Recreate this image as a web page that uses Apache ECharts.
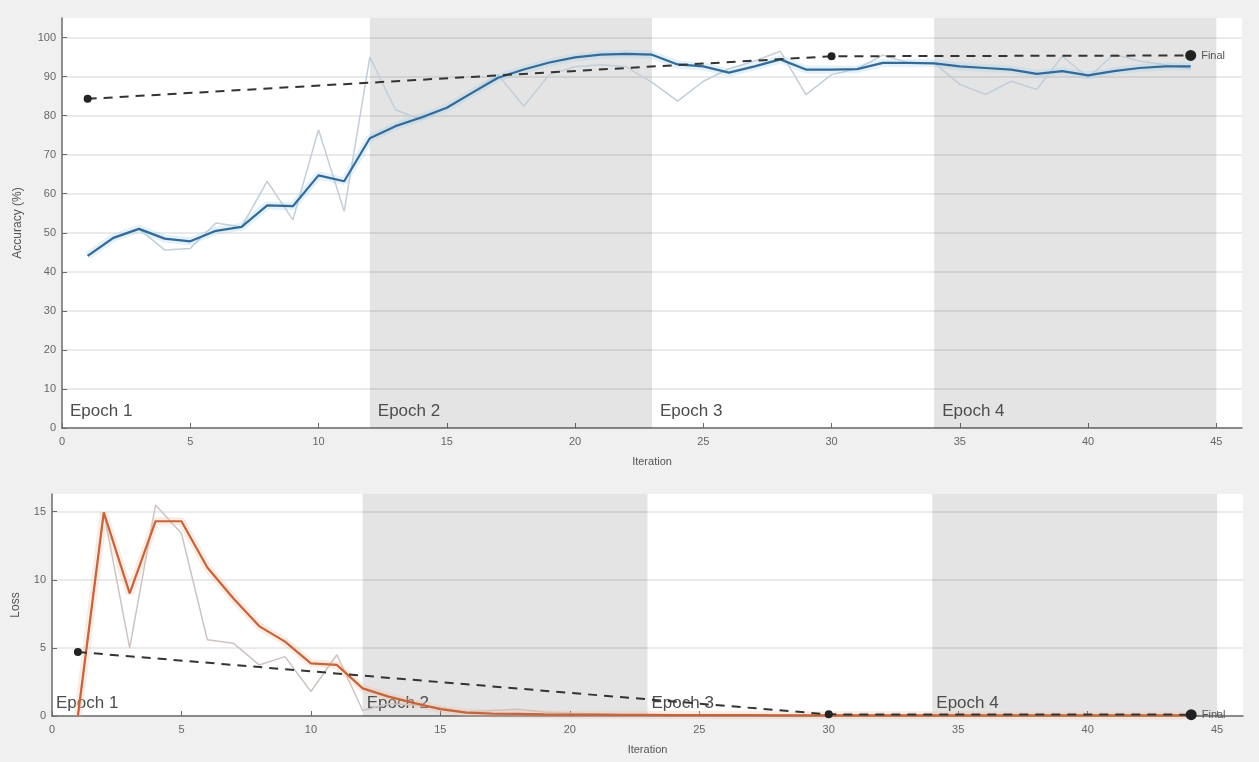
<!DOCTYPE html>
<html>
<head>
<meta charset="utf-8">
<script src="https://cdn.jsdelivr.net/npm/echarts@6/dist/echarts.min.js"></script>
<style>
html,body{margin:0;padding:0;background:#f0f0f0;}
#chart{width:1259px;height:762px;}
</style>
</head>
<body>
<div id="chart"></div>
<script>
// ---------- data ----------
const iterations = [1,2,3,4,5,6,7,8,9,10,11,12,13,14,15,16,17,18,19,20,21,22,23,24,25,26,27,28,29,30,31,32,33,34,35,36,37,38,39,40,41,42,43,44];

const accSmooth = [44.1,48.7,51.0,48.5,47.8,50.5,51.5,57.0,56.8,64.7,63.2,74.2,77.3,79.5,82.0,85.9,89.7,91.8,93.6,94.9,95.6,95.8,95.6,93.1,92.6,91.0,92.6,94.4,91.8,91.8,91.9,93.5,93.5,93.4,92.6,92.2,91.8,90.7,91.4,90.3,91.4,92.2,92.6,92.6];
const accRaw    = [44.1,48.5,51.0,45.6,46.0,52.5,51.5,63.2,53.3,76.4,55.5,95.0,81.5,79.0,82.0,86.0,90.5,82.4,90.5,92.5,93.0,92.5,88.5,83.7,88.8,92.0,94.0,96.5,85.4,90.5,92.0,95.5,93.5,93.5,88.0,85.4,88.8,86.7,95.2,89.7,95.7,94.0,93.0,92.0];

const lossSmooth = [0.0,14.95,9.0,14.3,14.3,10.9,8.65,6.6,5.46,3.87,3.75,2.03,1.42,0.95,0.5,0.25,0.18,0.15,0.12,0.1,0.1,0.08,0.08,0.07,0.07,0.06,0.06,0.05,0.05,0.05,0.05,0.05,0.05,0.05,0.05,0.05,0.04,0.04,0.04,0.04,0.04,0.04,0.04,0.04];
const lossRaw    = [0.0,14.95,5.0,15.5,13.4,5.6,5.35,3.75,4.36,1.8,4.5,0.4,0.9,0.8,0.6,0.3,0.4,0.5,0.3,0.2,0.15,0.1,0.1,0.1,0.08,0.08,0.05,0.05,0.05,0.05,0.05,0.05,0.05,0.05,0.05,0.05,0.04,0.04,0.04,0.04,0.04,0.04,0.04,0.04];

const valIter = [1,30,44];
const valAcc  = [84.3,95.2,95.4];
const valLoss = [4.7,0.12,0.1];

const epochNames  = ['Epoch 1','Epoch 2','Epoch 3','Epoch 4'];
const epochStarts = [0,12,23,34];
const epochEnds   = [12,23,34,45];

const xTicks = [0,5,10,15,20,25,30,35,40,45];
const accTicks = [0,10,20,30,40,50,60,70,80,90,100];
const lossTicks = [0,5,10,15];

// ---------- helpers ----------
const pair = (xs, ys) => xs.map((x, i) => [x, ys[i]]);
const FONT = 'Liberation Sans, Arial, sans-serif';

function epochAreas() {
  return epochNames.map((n, k) => [
    { xAxis: epochStarts[k], name: n,
      itemStyle: { color: k % 2 === 1 ? 'rgba(0,0,0,0.105)' : 'rgba(0,0,0,0)' } },
    { xAxis: epochEnds[k] }
  ]);
}

function xAxisCfg(gridIndex) {
  return {
    type: 'value', gridIndex, min: 0, max: 46, interval: 5,
    name: 'Iteration', nameLocation: 'middle', nameGap: 28,
    nameTextStyle: { color: '#555', fontSize: 11, fontFamily: FONT },
    axisLine: { show: true, lineStyle: { color: '#6b6b6b', width: 1.5 } },
    axisTick: { show: true, inside: true, length: 5, customValues: xTicks, lineStyle: { color: '#6b6b6b' } },
    axisLabel: { color: '#666', fontSize: 11, fontFamily: FONT, margin: 8, customValues: xTicks },
    splitLine: { show: false }
  };
}

function yAxisCfg(gridIndex, max, interval, name, gap, ticks) {
  return {
    type: 'value', gridIndex, min: 0, max, interval,
    name, nameLocation: 'middle', nameGap: gap, nameRotate: 90,
    nameTextStyle: { color: '#555', fontSize: 12, fontFamily: FONT },
    axisLine: { show: true, lineStyle: { color: '#6b6b6b', width: 1.5 } },
    axisTick: { show: true, inside: true, length: 5, customValues: ticks, lineStyle: { color: '#6b6b6b' } },
    axisLabel: { color: '#666', fontSize: 11, fontFamily: FONT, margin: 6, customValues: ticks },
    splitLine: { show: true, lineStyle: { color: '#e3e3e3', width: 1.5 } }
  };
}

const chart = echarts.init(document.getElementById('chart'), null, { renderer: 'canvas' });

chart.setOption({
  backgroundColor: '#f0f0f0',
  animation: false,
  grid: [
    { left: 62, right: 17, top: 18, height: 410, show: true, backgroundColor: '#ffffff', borderWidth: 0 },
    { left: 52, right: 16, top: 494, height: 222, show: true, backgroundColor: '#ffffff', borderWidth: 0 }
  ],
  xAxis: [xAxisCfg(0), xAxisCfg(1)],
  yAxis: [
    yAxisCfg(0, 105, 10, 'Accuracy (%)', 38, accTicks),
    yAxisCfg(1, 16.3, 5, 'Loss', 30, lossTicks)
  ],
  series: [
    // ---- accuracy ----
    {
      type: 'line', xAxisIndex: 0, yAxisIndex: 0, data: pair(iterations, accRaw),
      symbol: 'none', lineStyle: { color: '#c3ced8', width: 1.5 }, z: 2,
      markArea: {
        silent: true,
        label: { show: true, position: 'insideBottomLeft', distance: 8,
          color: '#4d4d4d', fontSize: 17, fontFamily: FONT },
        data: epochAreas()
      }
    },
    {
      type: 'line', xAxisIndex: 0, yAxisIndex: 0, data: pair(iterations, accSmooth),
      symbol: 'none', lineStyle: { color: 'rgba(160,210,240,0.3)', width: 8 }, z: 3
    },
    {
      type: 'line', xAxisIndex: 0, yAxisIndex: 0, data: pair(iterations, accSmooth),
      symbol: 'none', lineStyle: { color: '#366a96', width: 2.2 }, z: 4
    },
    {
      type: 'line', xAxisIndex: 0, yAxisIndex: 0, data: pair(valIter, valAcc),
      symbol: 'circle', symbolSize: (v, p) => p.dataIndex === valIter.length - 1 ? 11 : 8,
      itemStyle: { color: '#222' },
      lineStyle: { color: '#333', width: 2, type: [9, 7] }, z: 5,
      label: { show: true, position: 'right', distance: 5, color: '#555', fontSize: 11, fontFamily: FONT,
        formatter: p => p.dataIndex === valIter.length - 1 ? 'Final' : '' }
    },
    // ---- loss ----
    {
      type: 'line', xAxisIndex: 1, yAxisIndex: 1, data: pair(iterations, lossRaw),
      symbol: 'none', lineStyle: { color: '#cdc4c1', width: 1.5 }, z: 2,
      markArea: {
        silent: true,
        label: { show: true, position: 'insideBottomLeft', distance: 4,
          color: '#4d4d4d', fontSize: 17, fontFamily: FONT },
        data: epochAreas()
      }
    },
    {
      type: 'line', xAxisIndex: 1, yAxisIndex: 1, data: pair(iterations, lossSmooth),
      symbol: 'none', lineStyle: { color: 'rgba(245,190,160,0.3)', width: 8 }, z: 3
    },
    {
      type: 'line', xAxisIndex: 1, yAxisIndex: 1, data: pair(iterations, lossSmooth),
      symbol: 'none', lineStyle: { color: '#c3653e', width: 2.2 }, z: 4
    },
    {
      type: 'line', xAxisIndex: 1, yAxisIndex: 1, data: pair(valIter, valLoss),
      symbol: 'circle', symbolSize: (v, p) => p.dataIndex === valIter.length - 1 ? 11 : 8,
      itemStyle: { color: '#222' },
      lineStyle: { color: '#333', width: 2, type: [9, 7] }, z: 5,
      label: { show: true, position: 'right', distance: 5, color: '#555', fontSize: 11, fontFamily: FONT,
        formatter: p => p.dataIndex === valIter.length - 1 ? 'Final' : '' }
    }
  ]
});
</script>
</body>
</html>
